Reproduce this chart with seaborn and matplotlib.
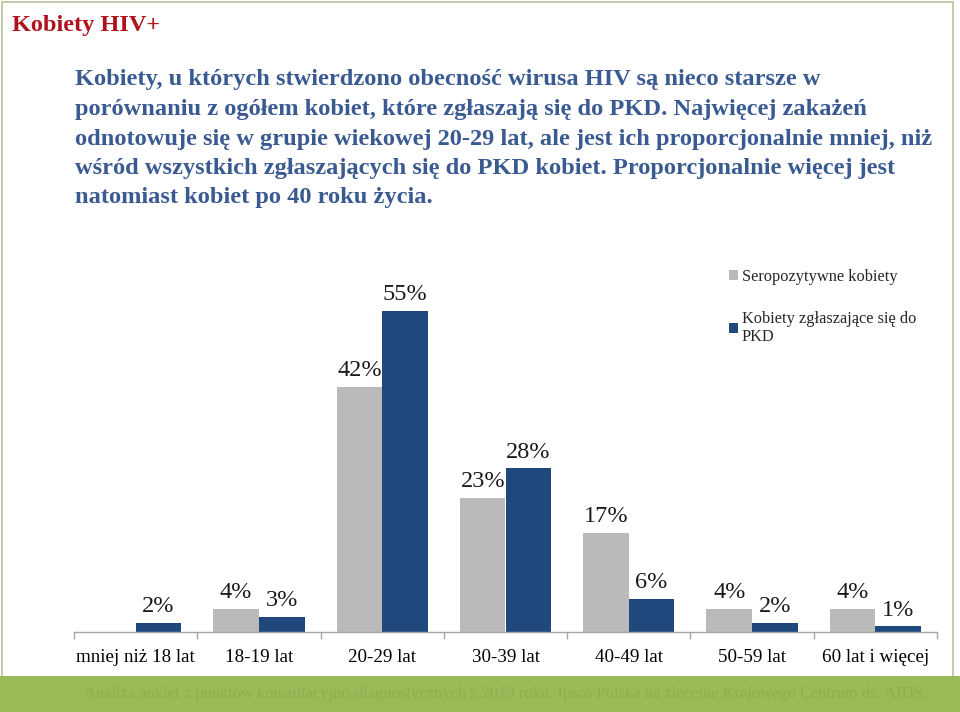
import matplotlib
matplotlib.use("Agg")
import matplotlib.pyplot as plt
import matplotlib.patches as mpatches
import seaborn as sns
import pandas as pd
import numpy as np

categories = ["mniej niż 18 lat", "18-19 lat", "20-29 lat", "30-39 lat",
              "40-49 lat", "50-59 lat", "60 lat i więcej"]
series_names = ["Seropozytywne kobiety", "Kobiety zgłaszające się do\nPKD"]
seropos = [0, 4, 42, 23, 17, 4, 4]
pkd = [1.6, 2.6, 55, 28, 5.7, 1.6, 1.0]

title = "Kobiety HIV+"
paragraph = [
    "Kobiety, u których stwierdzono obecność wirusa HIV są nieco starsze w",
    "porównaniu z ogółem kobiet, które zgłaszają się do PKD. Najwięcej zakażeń",
    "odnotowuje się w grupie wiekowej 20-29 lat, ale jest ich proporcjonalnie mniej, niż",
    "wśród wszystkich zgłaszających się do PKD kobiet. Proporcjonalnie więcej jest",
    "natomiast kobiet po 40 roku życia.",
]
footer = ("Analiza ankiet z punktów konsultacyjno-diagnostycznych z 2013 roku. "
          "Ipsos Polska na zlecenie Krajowego Centrum ds. AIDS.")

GREY = "#BABABA"
BLUE = "#1F497D"

sns.set_theme(style="white")
plt.rcParams['font.family'] = ['Liberation Serif', 'DejaVu Serif']

df = pd.DataFrame({
    "cat": categories * 2,
    "series": [series_names[0]] * len(categories) + [series_names[1]] * len(categories),
    "value": seropos + pkd,
})

W, H = 960, 712
fig = plt.figure(figsize=(W / 100, H / 100), dpi=100, facecolor="white")

# slide border and footer band
fig.patches.append(mpatches.Rectangle((2 / W, 0), 951 / W, 1 - 2 / H, transform=fig.transFigure,
                                      fill=False, edgecolor="#B9C19C", linewidth=1.2, zorder=0))
fig.patches.append(mpatches.Rectangle((0, 0), 1, 36 / H, transform=fig.transFigure,
                                      facecolor="#9BBB59", edgecolor="none", zorder=1))

ax = fig.add_axes([74 / W, 80 / H, 863 / W, (60 * 5.84) / H])
ax.set_facecolor("none")
sns.barplot(data=df, x="cat", y="value", hue="series", order=categories,
            hue_order=series_names, palette=[GREY, BLUE], width=0.74,
            saturation=1, ax=ax, legend=False, edgecolor="none", linewidth=0)

for cont, vals in zip(ax.containers, [seropos, pkd]):
    labels = [f"{v:.0f}%" if v > 0 else "" for v in vals]
    ax.bar_label(cont, labels=labels, padding=4, fontsize=17.5, color="#1a1a1a")

ax.set_xlim(-0.5, len(categories) - 0.5)
ax.set_ylim(0, 60)
ax.set_xlabel("")
ax.set_ylabel("")
ax.set_yticks([])
for s in ["top", "right", "left"]:
    ax.spines[s].set_visible(False)
ax.spines["bottom"].set_color("#A6A6A6")
ax.spines["bottom"].set_linewidth(1)
ax.set_xticks(range(len(categories)))
ax.set_xticklabels(categories, fontsize=13.7, color="black")
ax.set_xticks(np.arange(-0.5, len(categories), 1.0), minor=True)
ax.tick_params(axis="x", which="major", length=0, pad=12)
ax.tick_params(axis="x", which="minor", length=5, color="#A6A6A6", width=1, direction="out", bottom=True)

handles = [mpatches.Patch(facecolor=GREY, edgecolor="none"),
           mpatches.Patch(facecolor=BLUE, edgecolor="none")]
fig.legend(handles, series_names, loc="upper left", bbox_to_anchor=(722 / W, 1 - 262 / H),
           frameon=False, fontsize=11.8, handlelength=0.55, handleheight=0.55,
           handletextpad=0.25, labelspacing=1.6, borderaxespad=0)

fig.text(12 / W, 1 - 26 / H, title, fontsize=17.5, fontweight="bold", color="#B0121B",
         va="center", ha="left")
for i, line in enumerate(paragraph):
    fig.text(75 / W, 1 - (80 + i * 29.5) / H, line, fontsize=17.6, fontweight="bold",
             color="#3A5A92", va="center", ha="left")

fig.text(505 / W, 1 - 694 / H, footer, fontsize=11.9, color="#8DAE4E",
         va="center", ha="center", zorder=3)

fig.savefig("out.png", dpi=100, facecolor="white")
